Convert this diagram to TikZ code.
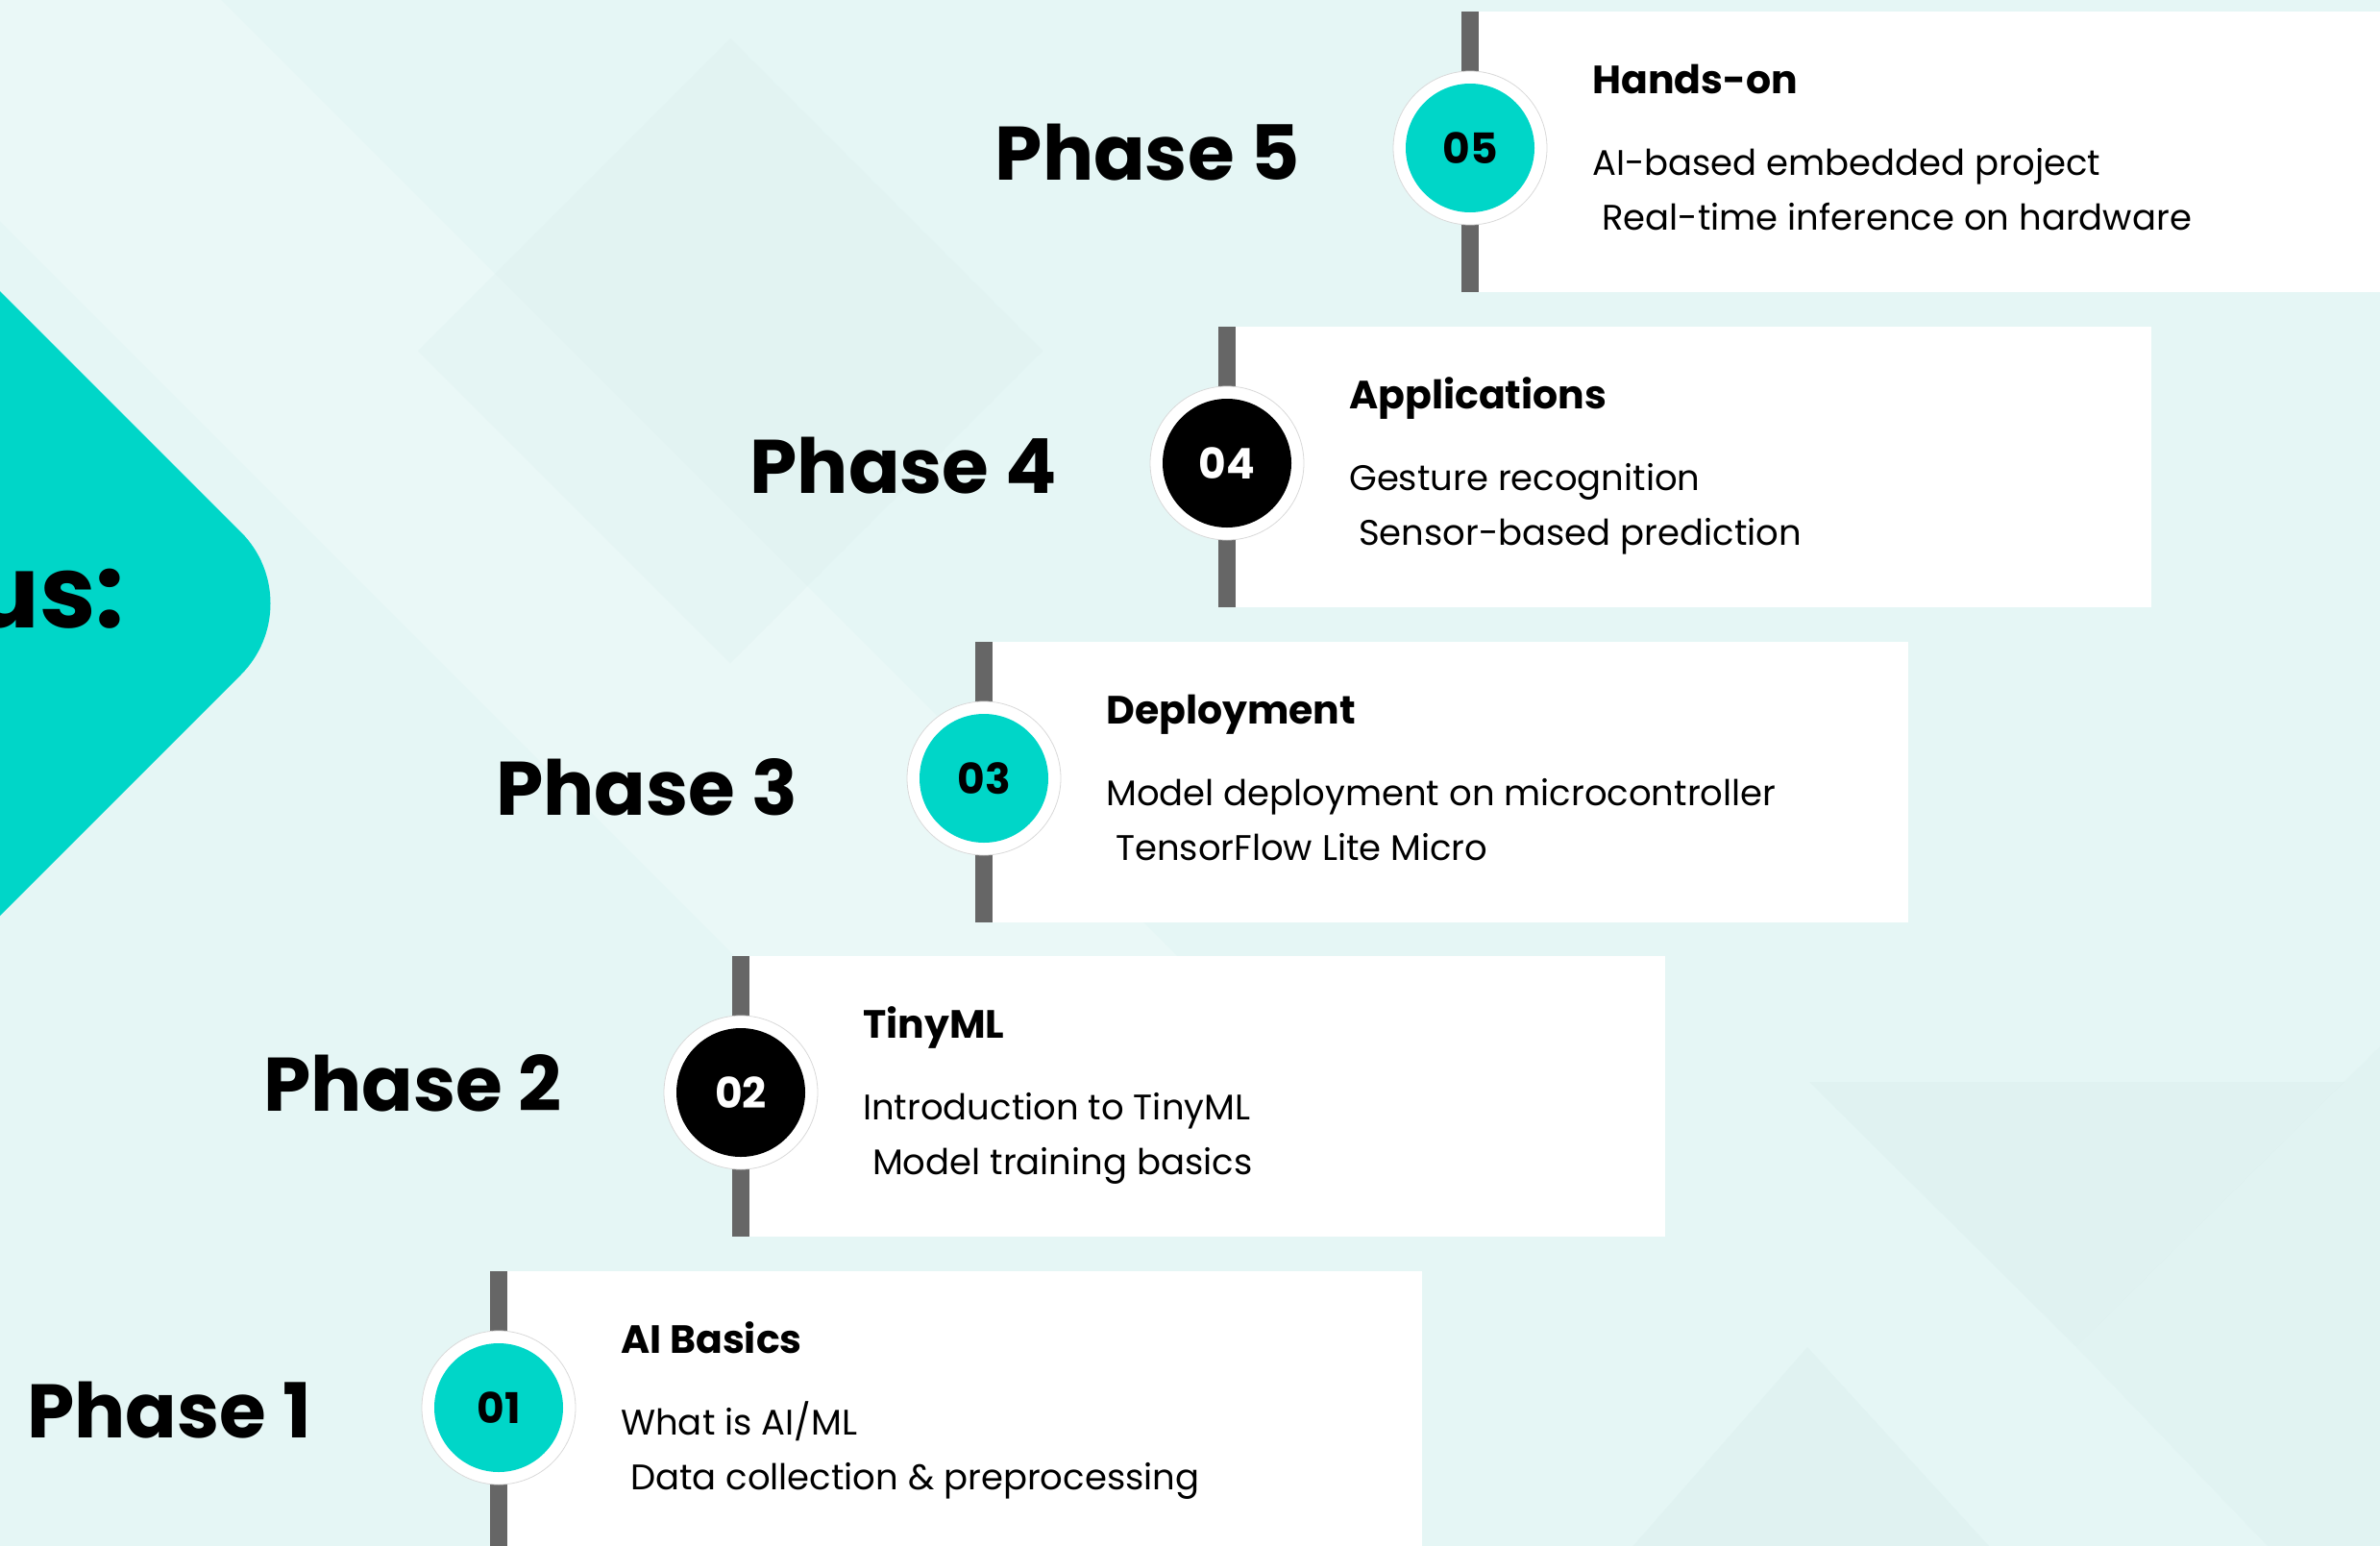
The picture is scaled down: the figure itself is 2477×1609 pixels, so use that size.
\documentclass[tikz,border=0pt]{standalone}
\usepackage{fontspec}
\setmainfont{Poppins}

\definecolor{mint}{HTML}{E5F6F5}
\definecolor{mintdark}{HTML}{DDF0EF}
\definecolor{mintlight}{HTML}{EAF8F7}
\definecolor{aqua}{HTML}{00D6C8}
\definecolor{bargray}{HTML}{666666}

\begin{document}
\begin{tikzpicture}[x=1pt,y=-1pt,
  card/.style={fill=white},
  bar/.style={fill=bargray},
  ring/.style={circle,fill=white,draw=black!15,line width=0.8pt,minimum size=160pt,inner sep=0pt},
  dot/.style={circle,minimum size=134pt,inner sep=0pt,font=\fontsize{44}{44}\selectfont\bfseries},
  phase/.style={anchor=base east,inner sep=0pt,font=\fontsize{79}{79}\selectfont\bfseries},
  head/.style={anchor=base west,inner sep=0pt,font=\fontsize{41}{41}\selectfont\bfseries},
  item/.style={anchor=base west,inner sep=0pt,font=\fontsize{37}{37}\selectfont}]
\useasboundingbox (0,0) rectangle (2477,1609);
\clip (0,0) rectangle (2477,1609);

% background
\fill[mint] (0,0) rectangle (2477,1609);
\fill[mintlight] (0,0) -- (230,0) -- (1250,1020) -- (1020,1250) -- (0,230) -- cycle;
\fill[mintdark,opacity=.35] (760,40) -- (1085,365) -- (760,690) -- (435,365) -- cycle;
\fill[mintdark,opacity=.6] (1883,1126) -- (2440,1126) -- (2161,1402) -- cycle;
\fill[mintdark,opacity=.6] (1881,1402) -- (2080,1620) -- (1690,1620) -- cycle;
\fill[mintdark,opacity=.4] (2477,1089) -- (2477,1609) -- (2360,1609) -- (2161,1402) -- cycle;

% left tab
\fill[aqua,rounded corners=105pt] (-400,-97) -- (325,628) -- (-400,1353) -- (-1125,628) -- cycle;
\node[anchor=base east,inner sep=0pt,font=\fontsize{105}{105}\selectfont\bfseries] (focus) at (130,653) {us:};

% phase 1
\fill[card] (527,1323) rectangle (1480,1615);
\fill[bar] (510,1323) rectangle (528,1615);
\node[ring] (ring1) at (519,1465) {};
\node[dot,fill=aqua] (num1) at (ring1) {01};
\node[phase] (ph1) at (324,1496) {Phase 1};
\node[head] (hd1) at (646,1408) {AI Basics};
\node[item] (la1) at (646,1493) {What is AI/ML};
\node[item] (lb1) at (646,1550) {\ Data collection \& preprocessing};

% phase 2
\fill[card] (780,995) rectangle (1733,1287);
\fill[bar] (762,995) rectangle (780,1287);
\node[ring] (ring2) at (771,1137) {};
\node[dot,fill=black,text=white] (num2) at (ring2) {02};
\node[phase] (ph2) at (585,1156) {Phase 2};
\node[head] (hd2) at (898,1080) {TinyML};
\node[item] (la2) at (898,1165) {Introduction to TinyML};
\node[item] (lb2) at (898,1222) {\ Model training basics};

% phase 3
\fill[card] (1033,668) rectangle (1986,960);
\fill[bar] (1015,668) rectangle (1033,960);
\node[ring] (ring3) at (1024,810) {};
\node[dot,fill=aqua] (num3) at (ring3) {03};
\node[phase] (ph3) at (830,848) {Phase 3};
\node[head] (hd3) at (1151,753) {Deployment};
\node[item] (la3) at (1151,838) {Model deployment on microcontroller};
\node[item] (lb3) at (1151,895) {\ TensorFlow Lite Micro};

% phase 4
\fill[card] (1286,340) rectangle (2239,632);
\fill[bar] (1268,340) rectangle (1286,632);
\node[ring] (ring4) at (1277,482) {};
\node[dot,fill=black,text=white] (num4) at (ring4) {04};
\node[phase] (ph4) at (1100,513) {Phase 4};
\node[head] (hd4) at (1404,425) {Applications};
\node[item] (la4) at (1404,510) {Gesture recognition};
\node[item] (lb4) at (1404,567) {\ Sensor-based prediction};

% phase 5
\fill[card] (1539,12) rectangle (2492,304);
\fill[bar] (1521,12) rectangle (1539,304);
\node[ring] (ring5) at (1530,154) {};
\node[dot,fill=aqua] (num5) at (ring5) {05};
\node[phase] (ph5) at (1353,187) {Phase 5};
\node[head] (hd5) at (1657,97) {Hands-on};
\node[item] (la5) at (1657,182) {AI-based embedded project};
\node[item] (lb5) at (1657,239) {\ Real-time inference on hardware};
\end{tikzpicture}
\end{document}
